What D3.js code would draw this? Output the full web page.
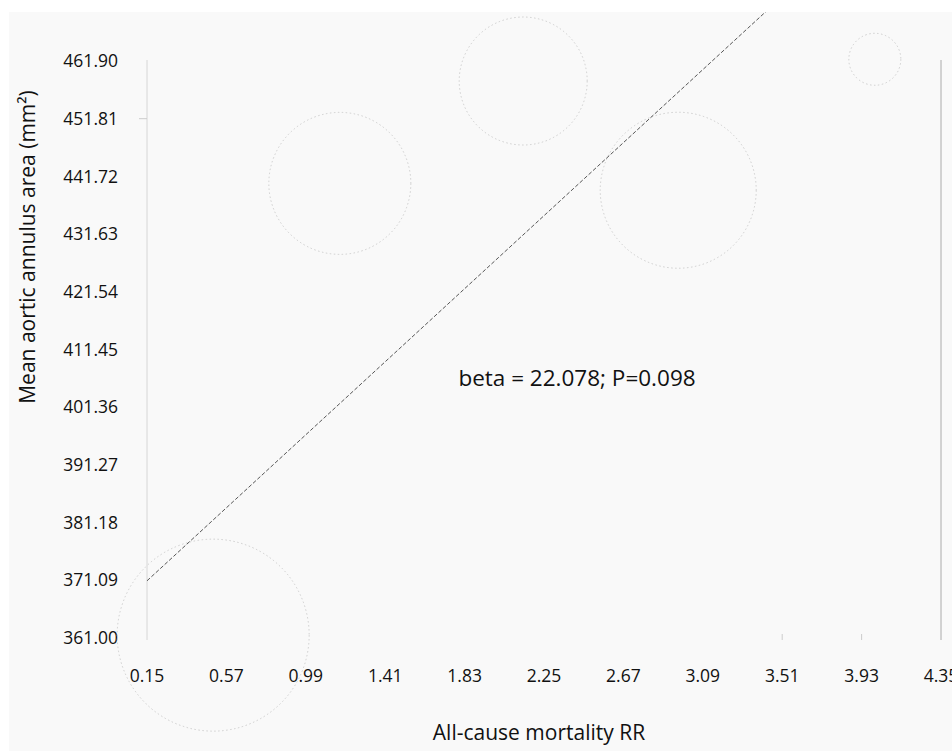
<!DOCTYPE html>
<html>
<head>
<meta charset="utf-8">
<script src="https://cdn.jsdelivr.net/npm/d3@7"></script>
<style>
  body { margin: 0; background: #fff; }
  svg { display: block; font-family: "Open Sans", "Noto Sans", sans-serif; }
</style>
</head>
<body>
<div id="chart"></div>
<script>
// tick labels
var xTicks = [0.15, 0.57, 0.99, 1.41, 1.83, 2.25, 2.67, 3.09, 3.51, 3.93, 4.35];
var yTicks = [361.00, 371.09, 381.18, 391.27, 401.36, 411.45, 421.54, 431.63, 441.72, 451.81, 461.90];

// studies: RR, annulus area, bubble radius (px)
var rr = [0.50, 1.17, 2.14, 2.96, 4.00];
var area = [361.5, 440.5, 458.4, 439.3, 462.2];
var radius = [96, 71, 64, 78, 26];

// meta-regression line endpoints
var regX = [0.15, 4.35];
var regY = [371.0, 498.7];

var W = 952, H = 751;
var svg = d3.select('#chart').append('svg')
  .attr('width', W)
  .attr('height', H);

// panel background
svg.append('rect')
  .attr('x', 9).attr('y', 12)
  .attr('width', W - 9).attr('height', H - 12)
  .attr('fill', '#f9f9f9');

svg.append('clipPath').attr('id', 'clip')
  .append('rect')
  .attr('x', 9).attr('y', 12)
  .attr('width', W - 9).attr('height', H - 12);

var x = d3.scaleLinear().domain([0.15, 4.35]).range([147, 941]);
var y = d3.scaleLinear().domain([361, 461.9]).range([638, 61]);

// y axis line
svg.append('line')
  .attr('x1', 147).attr('x2', 147)
  .attr('y1', 60).attr('y2', 640)
  .attr('stroke', '#d6d6d6');

// right border line
svg.append('line')
  .attr('x1', x(4.35)).attr('x2', x(4.35))
  .attr('y1', 60).attr('y2', 640)
  .attr('stroke', '#aaa');

// y tick labels
svg.selectAll('.ylab')
  .data(yTicks)
  .enter().append('text')
  .attr('class', 'ylab')
  .attr('x', 118)
  .attr('y', function(d) { return y(d); })
  .attr('dy', '0.35em')
  .attr('text-anchor', 'end')
  .attr('font-size', 17.5)
  .attr('fill', '#111')
  .text(function(d) { return d.toFixed(2); });

// the only visible y tick
svg.append('line')
  .attr('x1', 139).attr('x2', 147)
  .attr('y1', y(451.81)).attr('y2', y(451.81))
  .attr('stroke', '#ccc');

// x tick labels
svg.selectAll('.xlab')
  .data(xTicks)
  .enter().append('text')
  .attr('class', 'xlab')
  .attr('x', function(d) { return x(d); })
  .attr('y', 676)
  .attr('dy', '0.35em')
  .attr('text-anchor', 'middle')
  .attr('font-size', 17.5)
  .attr('fill', '#111')
  .text(function(d) { return d.toFixed(2); });

// visible x ticks
svg.selectAll('.xtick')
  .data([3.51, 3.93])
  .enter().append('line')
  .attr('x1', function(d) { return x(d); })
  .attr('x2', function(d) { return x(d); })
  .attr('y1', 634).attr('y2', 640)
  .attr('stroke', '#ccc');

// bubbles
svg.selectAll('.bubble')
  .data(rr)
  .enter().append('circle')
  .attr('class', 'bubble')
  .attr('cx', function(d) { return x(d); })
  .attr('cy', function(d, i) { return y(area[i]); })
  .attr('r', function(d, i) { return radius[i]; })
  .attr('fill', 'none')
  .attr('stroke', '#c4c4c4')
  .attr('stroke-width', 0.8)
  .attr('stroke-dasharray', '1.5,2.5');

// regression line
var line = d3.line()
  .x(function(d) { return x(d[0]); })
  .y(function(d) { return y(d[1]); });

svg.append('path')
  .datum(d3.zip(regX, regY))
  .attr('clip-path', 'url(#clip)')
  .attr('d', line)
  .attr('fill', 'none')
  .attr('stroke', '#444')
  .attr('stroke-width', 0.9)
  .attr('stroke-dasharray', '4,2');

// annotation
svg.append('text')
  .attr('x', 577).attr('y', 378)
  .attr('dy', '0.35em')
  .attr('text-anchor', 'middle')
  .attr('font-size', 22.5)
  .attr('fill', '#111')
  .text('beta = 22.078; P=0.098');

// axis titles
svg.append('text')
  .attr('x', 539).attr('y', 733)
  .attr('dy', '0.35em')
  .attr('text-anchor', 'middle')
  .attr('font-size', 21)
  .attr('fill', '#111')
  .text('All-cause mortality RR');

svg.append('text')
  .attr('transform', 'translate(28,247) rotate(-90)')
  .attr('dy', '0.35em')
  .attr('text-anchor', 'middle')
  .attr('font-size', 21)
  .attr('fill', '#111')
  .text('Mean aortic annulus area (mm²)');
</script>
</body>
</html>
